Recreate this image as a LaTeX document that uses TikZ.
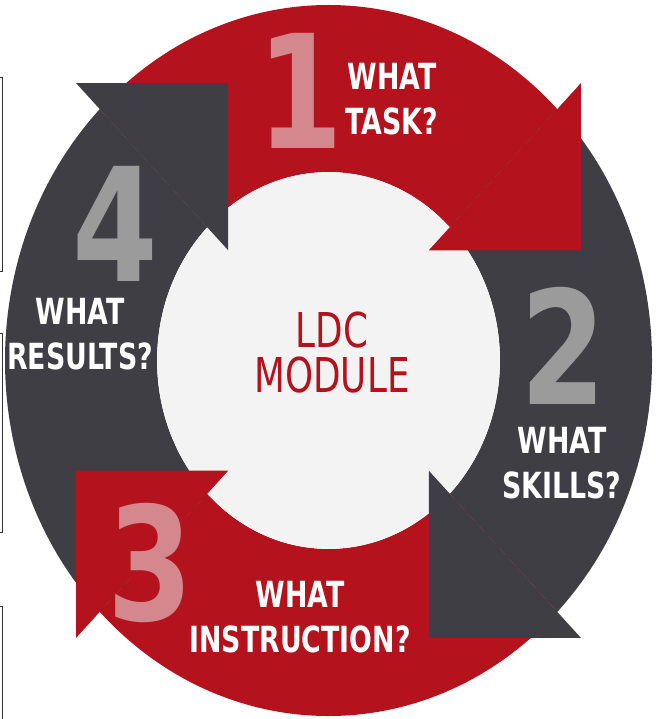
\documentclass[tikz,border=0pt]{standalone}
\usepackage{fontspec}
\newfontfamily\labelfont[FakeStretch=0.745]{DejaVu Sans}
\newfontfamily\numfont[FakeStretch=0.78]{DejaVu Sans}
\definecolor{ldcred}{RGB}{180,18,29}
\definecolor{ldcgray}{RGB}{64,62,69}
\definecolor{ldclight}{RGB}{243,243,243}
\definecolor{pinknum}{RGB}{212,136,141}
\definecolor{graynum}{RGB}{155,155,155}

\begin{document}
\begin{tikzpicture}[
     x=1pt,y=1pt,
     num/.style={font=\fontsize{158}{158}\selectfont\numfont\bfseries,inner sep=0pt},
     question/.style={font=\fontsize{36}{45}\selectfont\labelfont\bfseries,
       text=white,align=center,inner sep=0pt}
   ]
   \useasboundingbox (0,0) rectangle (655,-719);
   % Ring segments, heads on top.
   \begin{scope}[shift={(328.5,-360.5)},x=323.5pt,y=355.5pt]
     \fill[ldcred] (135:1) arc[start angle=135,end angle=45,radius=1]
       -- (45:0.53) arc[start angle=45,end angle=135,radius=0.53] -- cycle;
     \fill[ldcgray] (45:1) arc[start angle=45,end angle=-45,radius=1]
       -- (-45:0.53) arc[start angle=-45,end angle=45,radius=0.53] -- cycle;
     \fill[ldcred] (-45:1) arc[start angle=-45,end angle=-135,radius=1]
       -- (-135:0.53) arc[start angle=-135,end angle=-45,radius=0.53] -- cycle;
     \fill[ldcgray] (225:1) arc[start angle=225,end angle=135,radius=1]
       -- (135:0.53) arc[start angle=135,end angle=225,radius=0.53] -- cycle;
     \fill[ldclight] (0,0) circle[radius=0.53];
     \fill[ldcred] (0.78,0.78) -- (0.78,0.31) -- (0.31,0.31) -- cycle;
     \fill[ldcgray] (0.78,-0.78) -- (0.31,-0.78) -- (0.31,-0.31) -- cycle;
     \fill[ldcred] (-0.78,-0.78) -- (-0.78,-0.31) -- (-0.31,-0.31) -- cycle;
     \fill[ldcgray] (-0.78,0.78) -- (-0.31,0.78) -- (-0.31,0.31) -- cycle;
   \end{scope}
   % Numbers and questions.
   \node[num,text=pinknum] (num1) at (300.5,-91) {1};
   \node[num,text=graynum] (num2) at (563.5,-346) {2};
   \node[num,text=pinknum] (num3) at (150,-562.5) {3};
   \node[num,text=graynum] (num4) at (115,-223.5) {4};
   \node[question] (task) at (392,-99) {WHAT\\TASK?};
   \node[question] (skills) at (562,-463.5) {WHAT\\SKILLS?};
   \node[question] (instruction) at (300,-617.5) {WHAT\\INSTRUCTION?};
   \node[question] (results) at (80,-334) {WHAT\\RESULTS?};
   \node[font=\fontsize{48}{45}\selectfont\labelfont,text=ldcred,
     align=center,inner sep=0pt] (module) at (332,-353) {LDC\\MODULE};
   % Table rules at the left edge.
   \draw[line width=1pt,black!80] (0,-78) -- (2.5,-78) -- (2.5,-271) -- (0,-271);
   \draw[line width=1pt,black!80] (0,-333) -- (2.5,-333) -- (2.5,-532) -- (0,-532);
   \draw[line width=1pt,black!80] (0,-606) -- (2.5,-606) -- (2.5,-719);
 \end{tikzpicture}
\end{document}
